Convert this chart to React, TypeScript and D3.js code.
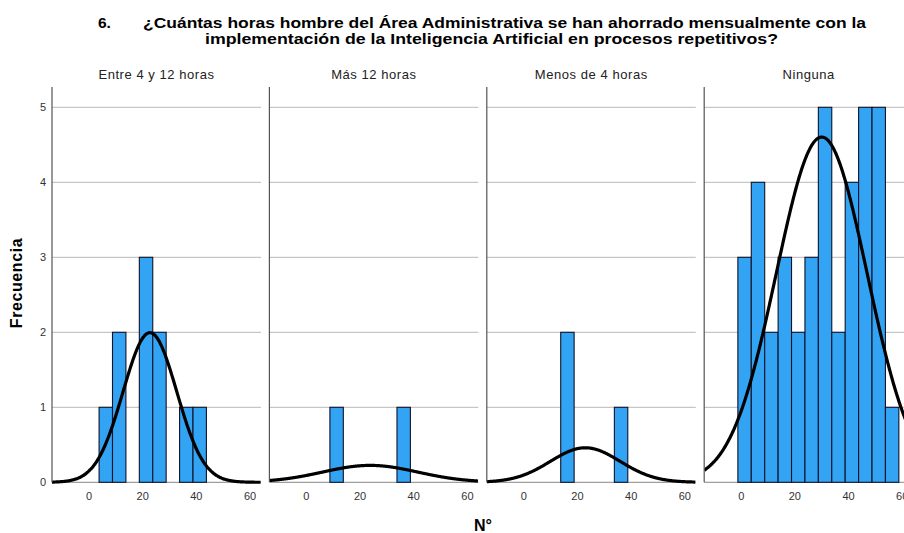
import React from "react";
import * as d3 from "d3";

// Histogram bins (lower edges), all of width 5
const binStarts = [-1.25, 3.75, 8.75, 13.75, 18.75, 23.75, 28.75, 33.75, 38.75, 43.75, 48.75, 53.75];
const binWidth = 5;

const panelTitles = ["Entre 4 y 12 horas", "Más 12 horas", "Menos de 4 horas", "Ninguna"];

const countsEntre = [0, 1, 2, 0, 3, 2, 0, 1, 1, 0, 0, 0];
const countsMas12 = [0, 0, 1, 0, 0, 0, 0, 1, 0, 0, 0, 0];
const countsMenos4 = [0, 0, 0, 2, 0, 0, 0, 1, 0, 0, 0, 0];
const countsNinguna = [3, 4, 2, 3, 2, 3, 5, 2, 4, 5, 5, 1];

// Normal curve parameters per panel (mean, standard deviation)
const curveMeans = [22.7, 23.75, 22.9, 30];
const curveSds = [10, 17.7, 13, 16.9];

const yTicks = [0, 1, 2, 3, 4, 5];
const xTicks = [0, 20, 40, 60];

const titleNumber = "6.";
const titleLine1 = "¿Cuántas horas hombre del Área Administrativa se han ahorrado mensualmente con la";
const titleLine2 = "implementación de la Inteligencia Artificial en procesos repetitivos?";
const yLabel = "Frecuencia";
const xLabel = "N°";

const allCounts = [countsEntre, countsMas12, countsMenos4, countsNinguna];

const W = 904;
const H = 533;
const panelLeft0 = 52;
const panelStep = 217.4;
const panelW = 209;
const font = "Arial, 'Liberation Sans', sans-serif";

export default function App() {
  const y = d3.scaleLinear().domain([0, 5]).range([482.3, 107.3]);
  const yTop = y(5.27);
  const xDomain: [number, number] = [-13.8, 64.1];

  return (
    <svg
      width={W}
      height={H}
      style={{ position: "absolute", left: 0, top: 0, background: "#fff" }}
      fontFamily={font}
    >
      <rect width={W} height={H} fill="#fff" />
      {/* title */}
      <text x={98} y={28} fontSize={15.5} fontWeight="bold" fill="#000">{titleNumber}</text>
      <text x={143} y={28} fontSize={15.5} fontWeight="bold" fill="#000" textLength={723} lengthAdjust="spacingAndGlyphs">
        {titleLine1}
      </text>
      <text x={205} y={44} fontSize={15.5} fontWeight="bold" fill="#000" textLength={573} lengthAdjust="spacingAndGlyphs">
        {titleLine2}
      </text>

      {/* y axis label */}
      <text
        transform={`translate(22,283) rotate(-90)`}
        fontSize={16}
        fontWeight="bold"
        textAnchor="middle"
        letterSpacing={0.6}
        fill="#000"
      >
        {yLabel}
      </text>

      {/* x axis label */}
      <text x={483} y={531} fontSize={16} fontWeight="bold" textAnchor="middle" fill="#000">{xLabel}</text>

      {allCounts.map((counts, p) => {
        const left = panelLeft0 + p * panelStep;
        const x = d3.scaleLinear().domain(xDomain).range([left, left + panelW]);
        const n = d3.sum(counts);
        const mu = curveMeans[p];
        const sd = curveSds[p];
        const pts = d3.range(xDomain[0], xDomain[1] + 0.01, 0.25);
        const dens = (v: number) =>
          (n * binWidth) / (sd * Math.sqrt(2 * Math.PI)) * Math.exp(-((v - mu) ** 2) / (2 * sd * sd));
        const line = d3
          .line<number>()
          .x((v) => x(v))
          .y((v) => y(dens(v)))
          .curve(d3.curveBasis);
        const clipId = `clip-${p}`;
        return (
          <g key={p}>
            <defs>
              <clipPath id={clipId}>
                <rect x={left} y={yTop - 5} width={panelW} height={y(0) - yTop + 8} />
              </clipPath>
            </defs>
            <text
              x={left + panelW / 2}
              y={79}
              fontSize={13}
              letterSpacing={0.55}
              textAnchor="middle"
              fill="#222"
            >
              {panelTitles[p]}
            </text>
            {/* grid lines */}
            {yTicks.slice(1).map((t) => (
              <line key={t} x1={left} x2={left + panelW} y1={y(t)} y2={y(t)} stroke="#b8b8b8" strokeWidth={1} />
            ))}
            <line x1={left} x2={left + panelW} y1={y(0)} y2={y(0)} stroke="#888" strokeWidth={1} />
            {/* bars */}
            {counts.map((c, i) =>
              c > 0 ? (
                <rect
                  key={i}
                  x={x(binStarts[i])}
                  y={y(c)}
                  width={x(binStarts[i] + binWidth) - x(binStarts[i])}
                  height={y(0) - y(c)}
                  fill="#33a4f3"
                  stroke="#10122a"
                  strokeWidth={1.1}
                />
              ) : null
            )}
            {/* normal curve */}
            <path d={line(pts) || ""} fill="none" stroke="#000" strokeWidth={3.2} clipPath={`url(#${clipId})`} />
            {/* left axis */}
            <line x1={left} x2={left} y1={yTop} y2={y(0)} stroke="#555" strokeWidth={1.2} />
            {/* y tick labels */}
            {p === 0 &&
              yTicks.map((t) => (
                <text key={t} x={left - 6} y={y(t) + 4} fontSize={11} textAnchor="end" fill="#333">
                  {t}
                </text>
              ))}
            {/* x tick labels */}
            {xTicks.map((t) => (
              <text key={t} x={x(t)} y={500} fontSize={11} textAnchor="middle" fill="#333">
                {t}
              </text>
            ))}
          </g>
        );
      })}
    </svg>
  );
}
